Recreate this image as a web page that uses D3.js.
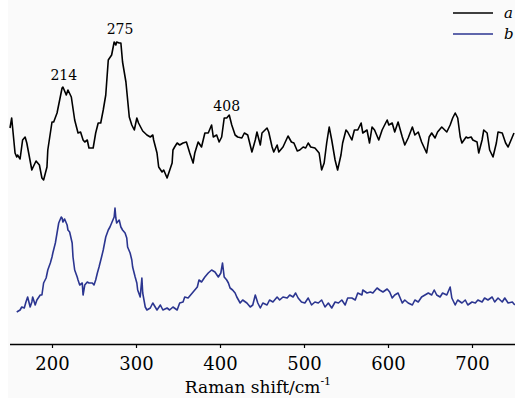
<!DOCTYPE html>
<html>
<head>
<meta charset="utf-8">
<script src="https://cdn.jsdelivr.net/npm/d3@7"></script>
<style>
  body { margin: 0; background: #fff; }
  svg { display: block; }
</style>
</head>
<body>
<div id="chart"></div>
<script>
// Raman spectra a (black) and b (blue), intensity in arbitrary units
const shiftA = [150,152,156,158,159,162,165,168,170,176,177,181,185,188,190,194,195,200,202,206,212,213,217,219,223,227,231,234,237,239,242,244,249,252,255,258,261,264,267,271,274,276,277,280,282,284,288,292,295,298,301,303,308,313,317,320,321,325,327,331,333,337,339,343,344,346,349,352,356,360,364,368,370,374,378,382,386,390,392,396,399,402,405,408,411,414,418,421,426,429,433,438,442,444,448,450,456,458,462,464,468,470,475,481,485,488,492,495,499,502,505,508,513,518,521,524,527,530,533,537,540,544,546,550,552,557,560,564,568,570,575,578,581,584,589,593,599,601,605,608,612,617,620,624,629,632,636,640,646,649,652,656,659,664,670,674,677,680,683,686,688,693,695,699,701,706,708,712,714,718,721,725,729,731,736,740,743,748,750];
const intensityA = [222,232,197,193,195,191,210,213,207,180,182,189,185,172,170,183,200,228,228,237,262,263,255,260,253,230,217,218,210,208,210,202,202,217,227,227,240,255,290,295,308,305,308,307,307,288,268,233,225,220,232,227,219,215,213,215,210,197,183,178,180,172,177,187,200,203,207,205,207,208,197,187,197,208,203,217,217,225,213,215,208,213,232,232,235,225,215,213,212,217,215,198,210,218,205,217,222,218,203,198,205,198,203,214,208,207,199,200,203,202,207,203,202,197,180,187,207,223,210,190,180,195,207,220,218,210,220,220,227,217,220,207,223,220,210,220,230,225,227,218,228,213,205,212,223,215,218,208,197,213,217,212,218,223,218,225,232,237,232,213,207,213,212,213,210,208,197,210,220,217,200,193,207,218,217,207,203,213,217];

const shiftB = [158,162,164,167,169,171,174,176,177,180,182,186,188,190,193,195,198,200,201,204,206,208,211,212,213,215,218,219,221,224,225,227,230,231,233,236,237,239,242,244,248,250,252,254,256,259,261,264,267,269,271,274,275,276,277,280,282,284,287,289,290,293,295,296,299,301,302,305,307,308,311,313,317,320,325,329,332,337,340,344,349,352,356,358,362,367,368,373,375,378,382,386,390,394,398,401,403,405,408,410,412,415,418,420,424,427,432,436,439,442,445,448,451,456,459,463,468,471,475,480,483,487,490,493,497,501,505,509,513,517,521,525,529,533,537,541,545,549,552,557,561,564,569,570,575,579,582,587,590,594,599,602,605,608,612,617,620,624,629,632,636,640,644,648,652,655,658,662,665,670,674,676,680,683,688,692,695,700,704,707,712,715,719,724,727,731,736,739,743,748,751];
const intensityB = [38,40,43,42,48,53,43,48,53,45,50,55,55,67,72,80,87,93,97,107,117,127,133,132,128,131,125,120,118,107,93,80,73,70,65,67,55,65,68,67,67,65,70,77,83,93,100,113,120,123,127,133,142,132,127,130,123,120,117,112,103,97,90,83,73,67,60,53,72,57,43,40,42,47,40,45,40,42,40,43,40,47,48,53,52,57,58,63,70,68,73,77,80,78,73,77,87,73,70,67,62,60,57,53,47,50,47,43,45,55,47,42,47,45,50,48,53,50,53,52,55,53,57,52,48,47,52,45,48,47,50,43,47,42,48,47,50,45,52,52,50,57,55,60,57,58,57,62,60,58,61,58,52,55,57,47,50,47,45,50,48,53,55,57,55,60,55,53,57,55,63,52,45,50,47,50,45,48,47,50,48,52,50,53,48,52,48,52,47,48,45];

const xTicks = [200, 300, 400, 500, 600, 700];
const peakLabels = ["214", "275", "408"];
const peakShifts = [214, 281, 408];
const peakLevels = [270, 316, 239];
const seriesNames = ["a", "b"];
const seriesColors = ["#000000", "#2b3590"];

const W = 515, H = 402;
const svg = d3.select("#chart").append("svg")
    .attr("width", W)
    .attr("height", H);

svg.append("rect")
    .attr("x", 8).attr("y", 0)
    .attr("width", W - 8).attr("height", 398)
    .attr("fill", "#fafafa");

const x = d3.scaleLinear().domain([150, 750]).range([10, 514]);
const y = d3.scaleLinear().domain([0, 350]).range([350, 0]);

const serif = '"DejaVu Serif", "Liberation Serif", serif';

// x axis
const xAxis = svg.append("g")
    .attr("transform", "translate(0,344)")
    .call(d3.axisBottom(x).tickValues(xTicks).tickSize(4).tickSizeOuter(0).tickPadding(9));
xAxis.attr("font-family", null);
xAxis.select(".domain").attr("stroke", "#000").attr("stroke-width", 1.3)
    .attr("d", `M10,0.5H${W}`);
xAxis.selectAll(".tick line").attr("stroke", "#000").attr("stroke-width", 1.2);
xAxis.selectAll(".tick text")
    .style("font-family", serif).style("font-size", "18px").attr("fill", "#000");

const title = svg.append("text")
    .attr("x", 258).attr("y", 393)
    .attr("text-anchor", "middle")
    .style("font-family", serif).style("font-size", "17px").attr("fill", "#000");
title.append("tspan").text("Raman shift/cm");
title.append("tspan").attr("dy", -8).style("font-size", "11px").text("-1");

// spectra
const line = d3.line().x(d => x(d[0])).y(d => y(d[1]));
const dataA = shiftA.map((s, i) => [s, intensityA[i]]);
const dataB = shiftB.map((s, i) => [s, intensityB[i]]);

[dataA, dataB].forEach((data, i) => {
    svg.append("path")
        .datum(data)
        .attr("fill", "none")
        .attr("stroke", seriesColors[i])
        .attr("stroke-width", 1.6)
        .attr("stroke-linejoin", "round")
        .attr("d", line);
});

// peak labels
svg.selectAll(".peak")
    .data(peakLabels)
    .enter().append("text")
    .attr("class", "peak")
    .attr("x", (d, i) => x(peakShifts[i]))
    .attr("y", (d, i) => y(peakLevels[i]))
    .attr("text-anchor", "middle")
    .style("font-family", serif).style("font-size", "14px").attr("fill", "#000")
    .text(d => d);

// legend
const legend = svg.append("g");
seriesNames.forEach((name, i) => {
    const ly = 13 + i * 21;
    legend.append("line")
        .attr("x1", 453).attr("x2", 493)
        .attr("y1", ly).attr("y2", ly)
        .attr("stroke", seriesColors[i])
        .attr("stroke-width", 1.6);
    legend.append("text")
        .attr("x", 504).attr("y", ly + 5)
        .style("font-family", serif).style("font-style", "italic")
        .style("font-size", "15px").attr("fill", "#000")
        .text(name);
});
</script>
</body>
</html>
